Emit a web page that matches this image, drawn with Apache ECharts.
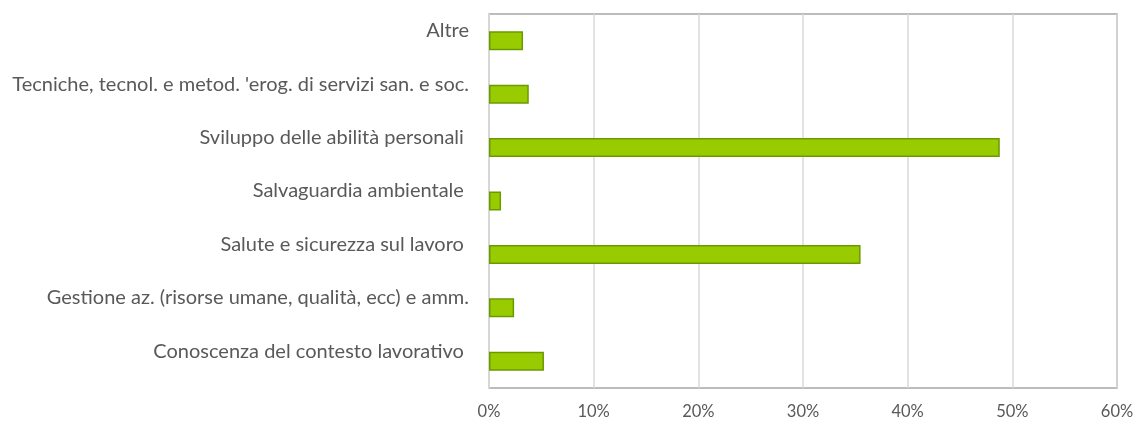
<!DOCTYPE html>
<html>
<head>
<meta charset="utf-8">
<script src="https://cdn.jsdelivr.net/npm/echarts@6/dist/echarts.min.js"></script>
<style>
  html, body { margin: 0; padding: 0; background: #ffffff; }
  #chart { width: 1137px; height: 426px; }
</style>
</head>
<body>
<div id="chart"></div>
<script>
// Aree tematiche della formazione (quota %), dal basso verso l'alto
const categories = [
  'Conoscenza del contesto lavorativo ',
  'Gestione az. (risorse umane, qualità, ecc) e amm.',
  'Salute e sicurezza sul lavoro ',
  'Salvaguardia ambientale ',
  'Sviluppo delle abilità personali ',
  "Tecniche, tecnol. e metod. 'erog. di servizi san. e soc.",
  'Altre'
];
const shares = [5.25, 2.4, 35.5, 1.15, 48.8, 3.8, 3.25];
const tickValues = [0, 10, 20, 30, 40, 50, 60];

const textFont = 'Lato, "Open Sans", sans-serif';
const chart = echarts.init(document.getElementById('chart'), null, { renderer: 'canvas' });

chart.setOption({
  animation: false,
  backgroundColor: '#ffffff',
  grid: {
    left: 489, right: 20, top: 14, bottom: 38,
    show: true, borderColor: '#a6a6a6', borderWidth: 1.5
  },
  xAxis: {
    type: 'value',
    min: tickValues[0],
    max: tickValues[tickValues.length - 1],
    interval: 10,
    axisLine: { show: false },
    axisTick: { show: false },
    splitLine: { show: true, lineStyle: { color: '#d9d9d9', width: 1.5 } },
    axisLabel: {
      color: '#595959', fontSize: 16.5, fontFamily: textFont, margin: 15,
      formatter: v => v + '%'
    }
  },
  yAxis: {
    type: 'category',
    data: categories,
    axisLine: { show: true, lineStyle: { color: '#d9d9d9', width: 1.5 } },
    axisTick: { show: false },
    axisLabel: {
      color: '#595959', fontSize: 20, fontFamily: textFont, margin: 20,
      lineHeight: 20,
      // each label sits a little above its bar
      formatter: v => v + '\n'
    }
  },
  series: [{
    type: 'bar',
    data: shares,
    barWidth: 19,
    itemStyle: { color: '#99cc00', borderColor: '#6b9a00', borderWidth: 1.5 }
  }]
});
</script>
</body>
</html>
